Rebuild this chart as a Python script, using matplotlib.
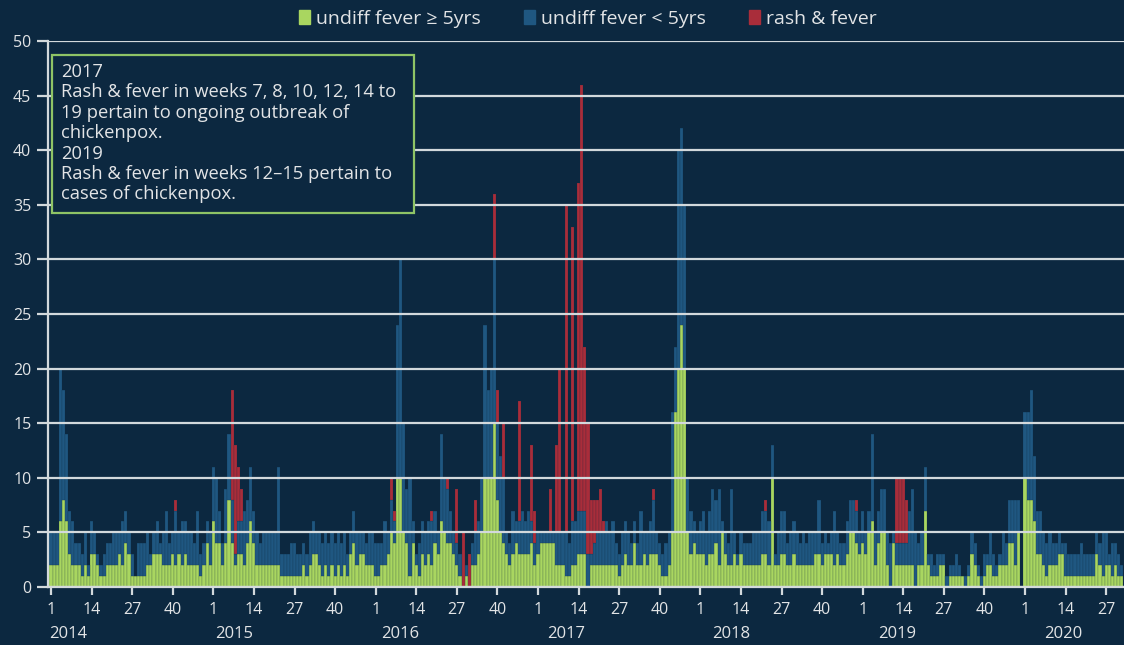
import numpy as np
import matplotlib
matplotlib.use('Agg')
import matplotlib.pyplot as plt
from matplotlib.patches import Patch, Rectangle

plt.rcParams['font.family'] = ['Open Sans', 'DejaVu Sans']

# weekly counts, stacked: fever >=5yrs (bottom), fever <5yrs, rash & fever (top)
years = [2014, 2015, 2016, 2017, 2018, 2019, 2020]
week_ticks = [1, 14, 27, 40]

ge5_2014 = [2,2,2,6,8,6,3,2,2,2, 1,2,1,3,3,2,1,1,2,2, 2,2,3,2,4,3,1,1,1,1, 1,2,2,3,3,3,2,2,2,3, 2,3,2,3,2,2,2,2,1,2,4,2]
lt5_2014 = [3,3,3,14,10,8,4,4,2,2, 2,3,1,3,2,1,1,2,2,2, 3,3,2,4,3,2,2,0,3,3, 3,3,1,2,3,1,3,5,2,2, 5,2,4,3,3,3,2,5,2,2,2,3]
rash_2014 = [0]*40 + [1] + [0]*11

ge5_2015 = [6,4,4,2,4,8,4,2,3,3, 2,4,6,4,2,2,2,2,2,2, 2,2,1,1,1,1,1,1,1,2, 1,2,3,3,2,1,2,1,2,1, 2,1,2,1,3,4,2,3,3,2,2,2]
lt5_2015 = [5,6,3,2,5,6,4,1,3,3, 5,4,5,3,3,2,3,3,3,3, 3,9,2,2,2,3,3,2,2,2, 2,3,3,2,3,3,3,3,3,3, 3,3,3,2,2,3,3,2,2,2,3,3]
rash_2015 = [0,0,0,0,0,0,10,10,5,3] + [0]*42

ge5_2016 = [1,1,2,2,3,5,4,10,10,5, 4,1,4,2,1,3,2,3,2,4, 3,6,5,4,4,3,2,1,0,1, 0,2,2,3,5,10,10,10,15,8, 5,4,3,2,3,4,3,3,3,3,4,2]
lt5_2016 = [3,3,2,4,2,3,2,14,20,10, 5,9,2,1,3,3,3,3,4,3, 2,8,5,5,3,2,2,2,0,1, 0,2,3,3,5,14,8,10,15,7, 7,6,2,2,4,2,3,4,3,4,2,2]
rash_2016 = [0,0,0,0,0,2,1,0,0,0, 0,0,0,0,0,0,0,0,1,0, 0,0,0,1,0,0,5,0,5,0, 3,0,3,0,0,0,0,0,6,3, 0,5,0,0,0,0,11,0,0,0,7,3]

ge5_2017 = [3,4,4,4,4,4,2,2,2,1, 1,2,2,3,3,3,0,2,2,2, 2,2,2,2,2,2,1,2,3,2, 2,4,2,2,3,2,3,3,3,2, 1,1,2,5,16,20,24,20,5,3,4,3]
lt5_2017 = [2,1,1,1,1,1,3,3,3,4, 3,4,4,4,4,4,3,1,2,3, 3,3,4,3,4,2,2,3,3,3, 2,2,2,5,2,3,3,5,2,2, 2,3,3,11,6,20,18,15,5,4,2,2]
rash_2017 = [0,0,0,0,4,0,8,15,0,30, 0,27,0,30,39,15,12,5,4,3, 4,1,0,0,0,0,0,0,0,0, 0,0,0,0,0,0,0,1,0,0, 0,0,0,0,0,0,0,0,0,0,0,0]

ge5_2018 = [3,3,2,3,3,4,2,5,3,2, 2,3,2,3,2,2,2,2,2,2, 3,3,2,10,2,2,3,3,2,2, 3,2,2,2,2,2,2,3,3,2, 3,3,3,2,3,2,2,3,5,5,4,3]
lt5_2018 = [3,4,3,4,6,4,7,1,2,2, 7,2,1,2,2,2,2,3,3,3, 4,4,4,3,1,3,4,4,2,3, 3,3,2,3,2,3,3,2,5,2, 2,1,2,5,2,2,2,3,3,3,3,2]
rash_2018 = [0]*21 + [1] + [0]*28 + [1, 0]

ge5_2019 = [4,3,5,6,2,4,5,5,2,0, 4,2,2,2,2,2,2,0,2,2, 7,2,1,1,1,2,2,0,1,1, 1,1,1,0,1,3,2,1,0,1, 2,2,1,1,2,2,2,4,4,2,5,0]
lt5_2019 = [3,2,2,8,3,3,4,4,3,4, 1,2,2,2,2,5,7,5,2,3, 4,1,2,1,2,1,1,1,1,1, 2,1,0,1,1,2,2,1,1,2, 1,3,2,1,1,3,2,4,4,6,3,0]
rash_2019 = [0]*11 + [6,6,6,4] + [0]*37

ge5_2020 = [10,8,8,6,3,3,2,1,2,2, 2,3,3,1,1,1,1,1,1,1, 1,1,1,3,2,1,2,2,1,2, 1,1]
lt5_2020 = [6,8,10,6,4,4,3,3,3,2, 2,2,1,3,2,2,2,2,3,2, 2,2,2,2,2,4,3,1,3,2, 2,1]
rash_2020 = [0]*32

ge5 = np.array(ge5_2014 + ge5_2015 + ge5_2016 + ge5_2017 + ge5_2018 + ge5_2019 + ge5_2020)
lt5 = np.array(lt5_2014 + lt5_2015 + lt5_2016 + lt5_2017 + lt5_2018 + lt5_2019 + lt5_2020)
rash = np.array(rash_2014 + rash_2015 + rash_2016 + rash_2017 + rash_2018 + rash_2019 + rash_2020)

BG = '#0c2840'
GREEN = '#a9d660'
BLUE = '#1f5781'
RED = '#a92d3a'
GRID = '#d3d9dc'
TXT = '#e2e4e6'
SEP = (0.05, 0.16, 0.25, 0.45)

fig = plt.figure(figsize=(11.24, 6.45), dpi=100, facecolor=BG)
ax = fig.add_axes([48/1124, 58/645, 1 - 48/1124, 546/645])
ax.set_facecolor(BG)

x = np.arange(len(ge5))
ax.bar(x, ge5, width=1.0, color=GREEN, edgecolor=SEP, linewidth=0.3, zorder=2)
ax.bar(x, lt5, bottom=ge5, width=1.0, color=BLUE, edgecolor=SEP, linewidth=0.3, zorder=2)
ax.bar(x, rash, bottom=ge5 + lt5, width=1.0, color=RED, edgecolor=SEP, linewidth=0.3, zorder=2)

tick_pos = []
tick_lab = []
for k, yr in enumerate(years):
    for w in week_ticks:
        p = k * 52 + w - 1
        if p < len(ge5):
            tick_pos.append(p)
            tick_lab.append(str(w))
ax.set_xticks(tick_pos)
ax.set_xticklabels(tick_lab)

ax.set_xlim(-0.96, 343.7)
ax.set_ylim(0, 50)
ax.set_yticks(range(0, 51, 5))
ax.yaxis.grid(True, color=GRID, lw=1.6, zorder=3)
ax.set_axisbelow(False)

for s in ['top', 'right']:
    ax.spines[s].set_visible(False)
for s in ['left', 'bottom']:
    ax.spines[s].set_color(GRID)
    ax.spines[s].set_linewidth(1.6)
    ax.spines[s].set_zorder(4)

ax.tick_params(axis='x', colors=GRID, length=6, width=1.6, labelcolor=TXT, labelsize=11.5, pad=5)
ax.tick_params(axis='y', colors=GRID, length=8, width=1.6, labelcolor=TXT, labelsize=11.5, pad=4)

for k, yr in enumerate(years):
    ax.text(k * 52 + 5.4 + 1.15 * k, -0.086, str(yr), transform=ax.get_xaxis_transform(),
            ha='center', va='center', color=TXT, fontsize=12)

handles = [Patch(color=GREEN, label='undiff fever \u2265 5yrs'),
           Patch(color=BLUE, label='undiff fever < 5yrs'),
           Patch(color=RED, label='rash & fever')]
fig.legend(handles=handles, loc='upper center', bbox_to_anchor=(0.523, 1.012), ncol=3,
           frameon=False, fontsize=14, labelcolor=TXT, handlelength=0.6, handleheight=0.7,
           handletextpad=0.3, columnspacing=2.2)

fig.patches.append(Rectangle((52/1124, 1 - 213/645), 362/1124, 158/645, transform=fig.transFigure,
                             facecolor=BG, edgecolor='#8fc466', linewidth=1.6, zorder=5))
note = ('2017\n'
        'Rash & fever in weeks 7, 8, 10, 12, 14 to\n'
        '19 pertain to ongoing outbreak of\n'
        'chickenpox.\n'
        '2019\n'
        'Rash & fever in weeks 12\u201315 pertain to\n'
        'cases of chickenpox.')
fig.text(61/1124, 1 - 63/645, note, ha='left', va='top', color=TXT, fontsize=13.2,
         linespacing=1.17, zorder=6)

fig.savefig('out.png', dpi=100, facecolor=BG)
